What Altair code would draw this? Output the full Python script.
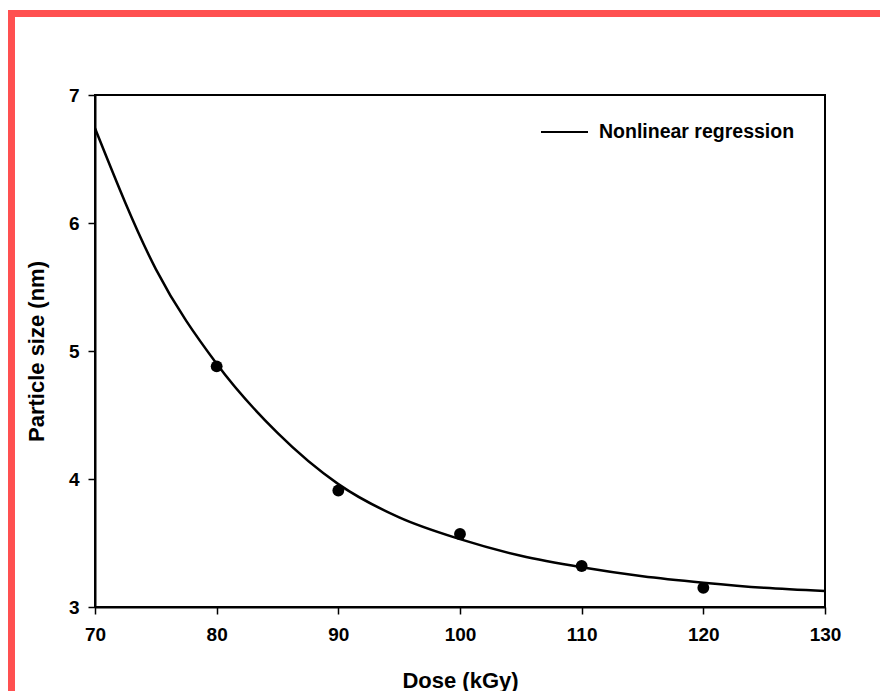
import altair as alt
import pandas as pd

# Measured data points
dose = [80, 90, 100, 110, 120]
particle_size = [4.88, 3.91, 3.57, 3.32, 3.15]

# Nonlinear regression curve
fit_dose = [70, 75, 80, 85, 90, 95, 100, 105, 110, 115, 120, 125, 130]
fit_size = [6.74, 5.64, 4.90, 4.36, 3.96, 3.70, 3.53, 3.40, 3.31, 3.24, 3.19, 3.15, 3.125]

x_ticks = [70, 80, 90, 100, 110, 120, 130]
y_ticks = [3, 4, 5, 6, 7]
legend_label = "Nonlinear regression"

FONT = "Liberation Sans"

pts = pd.DataFrame({"dose": dose, "size": particle_size})
fit = pd.DataFrame({"dose": fit_dose, "size": fit_size})
one = pd.DataFrame({"k": [0]})

xs = alt.Scale(domain=[70, 130], nice=False, zero=False)
ys = alt.Scale(domain=[3, 7], nice=False, zero=False)

x_axis = alt.Axis(values=x_ticks, format="d", title="Dose (kGy)", grid=False,
                  domainColor="black", domainWidth=2, tickColor="black", tickWidth=1.5,
                  tickSize=7, labelFont=FONT, labelFontSize=19, labelFontWeight="bold",
                  labelColor="black", labelPadding=11, labelFlush=False, labelOverlap=False,
                  titleFont=FONT, titleFontSize=22,
                  titleFontWeight="bold", titleColor="black", titlePadding=26)
y_axis = alt.Axis(values=y_ticks, format="d", title="Particle size (nm)", grid=False,
                  domainColor="black", domainWidth=2, tickColor="black", tickWidth=1.5,
                  tickSize=7, labelFont=FONT, labelFontSize=19, labelFontWeight="bold",
                  labelColor="black", labelPadding=9, labelFlush=False, labelOverlap=False,
                  titleFont=FONT, titleFontSize=22,
                  titleFontWeight="bold", titleColor="black", titlePadding=20)

curve = alt.Chart(fit).mark_line(color="black", strokeWidth=2.5, interpolate="monotone").encode(
    x=alt.X("dose:Q", scale=xs, axis=x_axis),
    y=alt.Y("size:Q", scale=ys, axis=y_axis),
)

points = alt.Chart(pts).mark_circle(color="black", size=140, opacity=1).encode(
    x=alt.X("dose:Q", scale=xs),
    y=alt.Y("size:Q", scale=ys),
)

legend_line = alt.Chart(one).mark_rule(color="black", strokeWidth=2).encode(
    x=alt.value(446), x2=alt.value(493), y=alt.value(37)
)
legend_text = alt.Chart(one).mark_text(
    text=legend_label, align="left", baseline="middle", font=FONT,
    fontSize=19.5, fontWeight="bold", color="black"
).encode(x=alt.value(504), y=alt.value(37))

border_top = alt.Chart(one).mark_rule(color="#FF5050", strokeWidth=7).encode(
    x=alt.value(-90), x2=alt.value(900), y=alt.value(-81.5)
)
border_left = alt.Chart(one).mark_rule(color="#FF5050", strokeWidth=7).encode(
    x=alt.value(-83.5), y=alt.value(-85), y2=alt.value(700)
)

chart = alt.layer(border_top, border_left, curve, points, legend_line, legend_text).properties(
    width=730, height=512,
    autosize=alt.AutoSizeParams(type="none"),
    padding={"left": 87, "top": 87, "right": 55, "bottom": 84},
    background="white",
).configure_view(stroke="black", strokeWidth=2)

chart.save("out.html", embed_options={"renderer": "svg", "actions": False})
